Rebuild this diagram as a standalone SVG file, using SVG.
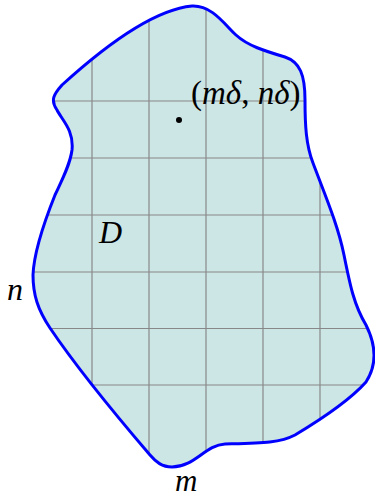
<svg xmlns="http://www.w3.org/2000/svg" width="375" height="497" viewBox="0 0 375 497">
<style>
.grid{stroke:#888888;stroke-width:1.2;fill:none}
.bd{fill:none;stroke:#0000ff;stroke-width:3;stroke-linejoin:round}
.lbl{font-family:"Liberation Serif","Times New Roman",serif;font-size:32px;fill:#000}
.it{font-style:italic}
</style>
<defs>
<path id="shape" d="M 192,6 C 212,5 225,25 236,35 C 248,46 265,51 285,57 C 300,62 305,75 305,100 C 305,125 306,145 313,163 C 325,195 338,225 344,255 C 350,285 354,305 366,325 C 376,345 377,365 366,382 C 350,400 320,420 295,435 C 280,443 260,443 225,444 C 205,445 195,467 172,467 C 162,467 156,462 150,455 C 120,420 75,365 50,328 C 38,310 33,295 33,275 C 34,250 45,220 55,195 C 62,180 70,165 72,150 C 74,130 62,120 57,110 C 50,100 54,94 62,85 C 95,55 150,10 192,6 Z"/>
<clipPath id="clip"><use href="#shape"/></clipPath>
</defs>
<g id="region">
<use href="#shape" fill="#cce5e5"/>
<g clip-path="url(#clip)" class="grid">
<path d="M0,101H375M0,158H375M0,215H375M0,272H375M0,328.5H375M0,385H375"/>
<path d="M92,0V497M149,0V497M206,0V497M263,0V497M320,0V497"/>
</g>
<use href="#shape" class="bd"/>
</g>
<g id="point">
<circle cx="179" cy="120" r="3" fill="#000"/>
<text class="lbl" x="191" y="104" style="font-size:33px">(<tspan class="it">mδ</tspan>, <tspan class="it">nδ</tspan>)</text>
</g>
<g id="labels">
<text class="lbl it" x="99" y="243">D</text>
<text class="lbl it" x="7" y="300">n</text>
<text class="lbl it" x="175" y="491" style="font-size:31px">m</text>
</g>
</svg>
